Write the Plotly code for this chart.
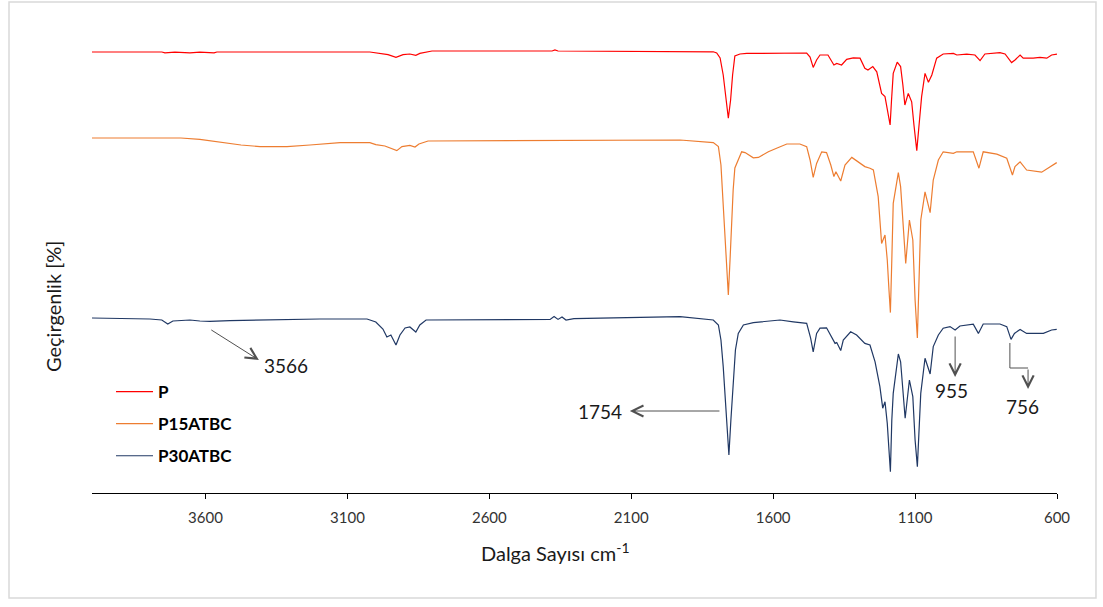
import plotly.graph_objects as go

# ---------------- data (wavenumber cm-1, transmittance a.u., stacked) ----------------
wn_P = [4000, 3859, 3845, 3824, 3754, 3743, 3708, 3655, 3620, 3570,
        3560, 3021, 2993, 2957, 2929, 2904, 2880, 2859, 2845, 2802,
        2379, 2369, 2358, 1928, 1811, 1799, 1787, 1776, 1766, 1758,
        1750, 1743, 1735, 1717, 1693, 1611, 1482, 1470, 1459, 1447,
        1435, 1407, 1396, 1386, 1376, 1359, 1341, 1318, 1294, 1277,
        1266, 1249, 1235, 1218, 1206, 1196, 1188, 1183, 1177, 1163,
        1151, 1143, 1136, 1124, 1112, 1104, 1094, 1086, 1077, 1065,
        1053, 1041, 1024, 1001, 965, 953, 918, 889, 871, 854,
        801, 783, 760, 748, 730, 719, 684, 660, 636, 619, 600]
T_P = [110.25, 110.25, 110.1, 110.25, 110.25, 110.05, 110.2, 110.05, 110.2, 110.05,
       110.25, 110.25, 109.9, 109.6, 108.9, 109.6, 109.75, 109.4, 109.9, 110.5,
       110.5, 110.75, 110.5, 110.3, 110.3, 110.0, 108.75, 104.5, 98.25, 93.7,
       98.25, 104.5, 109.25, 109.75, 109.9, 109.9, 110.0, 109.0, 106.4, 108.25,
       109.5, 109.5, 108.25, 107.0, 107.4, 107.0, 108.4, 108.8, 108.7, 106.2,
       105.75, 106.6, 105.3, 99.9, 99.1, 95.25, 92.0, 98.25, 104.9, 107.7,
       106.6, 102.0, 97.0, 99.9, 97.8, 92.0, 85.6, 92.0, 99.1, 104.9,
       102.7, 104.5, 108.7, 109.75, 109.9, 109.5, 109.7, 109.5, 108.1, 109.75,
       110.1, 109.75, 107.6, 108.25, 109.5, 108.7, 108.7, 108.9, 108.7, 109.5, 109.7]

wn_P15 = [4000, 3687, 3620, 3549, 3475, 3408, 3313, 3232, 3126, 3021,
          3000, 2968, 2926, 2908, 2880, 2862, 2848, 2816, 1999, 1928,
          1811, 1793, 1784, 1776, 1766, 1758, 1752, 1746, 1741, 1735,
          1711, 1699, 1670, 1652, 1617, 1588, 1552, 1506, 1482, 1470,
          1459, 1447, 1429, 1412, 1397, 1386, 1379, 1362, 1347, 1323,
          1294, 1277, 1259, 1247, 1230, 1218, 1206, 1198, 1192, 1187,
          1182, 1177, 1159, 1151, 1133, 1120, 1108, 1100, 1092, 1085,
          1080, 1065, 1047, 1036, 1018, 1001, 965, 953, 895, 875,
          860, 812, 777, 757, 748, 730, 707, 654, 625, 601]
T_P15 = [88.75, 88.75, 88.4, 87.75, 87.0, 86.6, 86.6, 87.0, 87.6, 87.6,
         87.1, 86.75, 85.6, 86.6, 86.9, 86.5, 87.25, 88.0, 88.1, 88.25,
         87.6, 86.6, 82.0, 72.5, 59.5, 49.5, 58.25, 68.25, 75.75, 81.25,
         85.3, 85.1, 83.8, 83.9, 85.3, 86.2, 87.25, 87.25, 86.6, 83.25,
         78.9, 82.4, 85.3, 85.1, 82.0, 79.1, 80.3, 78.0, 82.0, 83.9,
         82.4, 81.6, 81.2, 80.75, 74.1, 62.4, 64.5, 58.25, 50.75, 45.1,
         58.25, 72.4, 80.1, 76.6, 57.4, 68.25, 63.25, 48.25, 38.75, 53.25,
         68.25, 75.3, 70.1, 78.25, 83.25, 85.3, 84.9, 85.3, 85.3, 81.2,
         85.3, 84.7, 83.7, 79.5, 81.6, 82.8, 80.75, 80.2, 81.6, 82.6]

wn_P30 = [4000, 3866, 3796, 3754, 3733, 3715, 3655, 3620, 3585, 3514,
          3408, 3197, 3031, 3000, 2975, 2961, 2947, 2929, 2915, 2897,
          2880, 2859, 2845, 2823, 2386, 2372, 2358, 2344, 2330, 2302,
          1928, 1811, 1793, 1784, 1776, 1766, 1756, 1749, 1741, 1733,
          1723, 1705, 1670, 1576, 1529, 1482, 1468, 1459, 1447, 1435,
          1412, 1394, 1382, 1376, 1362, 1353, 1327, 1306, 1277, 1259,
          1241, 1224, 1214, 1206, 1198, 1192, 1187, 1182, 1177, 1159,
          1151, 1135, 1120, 1108, 1100, 1092, 1085, 1080, 1065, 1047,
          1036, 1018, 1001, 977, 959, 942, 895, 877, 860, 801,
          777, 762, 750, 730, 707, 648, 619, 601]
T_P30 = [43.75, 43.6, 43.5, 43.25, 42.25, 43.0, 43.25, 43.0, 42.9, 43.1,
         43.25, 43.5, 43.5, 42.75, 41.0, 39.0, 39.5, 37.0, 39.5, 41.25,
         41.5, 40.25, 42.0, 43.25, 43.4, 44.1, 43.4, 44.0, 43.25, 43.6,
         44.1, 43.25, 42.0, 38.25, 31.6, 20.75, 9.5, 18.25, 27.4, 35.75,
         39.9, 42.0, 42.6, 43.25, 42.8, 42.4, 38.7, 35.3, 39.9, 41.2,
         41.3, 39.1, 37.4, 37.6, 35.6, 38.25, 40.3, 39.5, 37.4, 37.0,
         32.8, 26.6, 21.2, 22.8, 17.4, 10.75, 5.3, 18.25, 24.9, 34.75,
         32.8, 18.7, 28.25, 24.1, 13.25, 6.6, 18.25, 24.9, 33.7, 29.75,
         36.6, 39.5, 41.2, 41.6, 40.75, 41.75, 42.2, 39.9, 42.25, 42.25,
         41.6, 38.4, 39.9, 40.9, 39.9, 39.9, 40.75, 40.9]

series_names = ["P", "P15ATBC", "P30ATBC"]
series_colors = ["#FF0000", "#ED7D31", "#203864"]

x_ticks = [3600, 3100, 2600, 2100, 1600, 1100, 600]
x_range = [4000, 600]

# peak labels: (label, text x, text y)
peak_labels = [("3566", 3401, 32.0), ("1754", 2210, 20.5), ("955", 971, 25.75), ("756", 723, 21.75)]
# arrows: (head x, head y, tail x, tail y)
peak_arrows = [(3412, 33.25, 3585, 41.0), (2105, 20.5, 1784, 20.5),
               (959, 29.0, 959, 39.5), (702, 26.0, 702, 31.25)]
elbow_x = [766, 766, 702]
elbow_y = [37.5, 31.25, 31.25]

FONT = "Lato, 'Open Sans', sans-serif"
ARROW_COLOR = "#505050"

fig = go.Figure()
for name, color, xs, ys in zip(series_names, series_colors,
                               [wn_P, wn_P15, wn_P30], [T_P, T_P15, T_P30]):
    fig.add_trace(go.Scatter(x=xs, y=ys, mode="lines", name=name, legendgroup=name,
                             line=dict(color=color, width=1.2)))

fig.add_trace(go.Scatter(x=elbow_x, y=elbow_y, mode="lines", showlegend=False,
                         hoverinfo="skip", line=dict(color=ARROW_COLOR, width=1)))

annotations = []
for (hx, hy, tx, ty) in peak_arrows:
    annotations.append(dict(x=hx, y=hy, ax=tx, ay=ty, xref="x", yref="y", axref="x", ayref="y",
                            text="", showarrow=True, arrowhead=5, arrowsize=2.2, arrowwidth=1,
                            arrowcolor=ARROW_COLOR, standoff=0, startstandoff=0))
anchors = ["left", "center", "center", "center"]
for (lab, lx, ly), anc in zip(peak_labels, anchors):
    annotations.append(dict(x=lx, y=ly, xref="x", yref="y", text=lab, showarrow=False,
                            xanchor=anc, yanchor="middle",
                            font=dict(family=FONT, size=19, color="#1a1a1a")))

annotations.append(dict(x=0.4808, y=-0.1283, xref="paper", yref="paper",
                        text="Dalga Sayısı cm<sup>-1</sup>", showarrow=False,
                        xanchor="center", yanchor="middle",
                        font=dict(family=FONT, size=20, color="#1a1a1a")))
annotations.append(dict(x=-0.0404, y=0.4065, xref="paper", yref="paper",
                        text="Geçirgenlik [%]", showarrow=False, textangle=-90,
                        xanchor="center", yanchor="middle",
                        font=dict(family=FONT, size=20, color="#1a1a1a")))

fig.update_layout(
    width=1103, height=607,
    margin=dict(l=92, r=46, t=33, b=114),
    paper_bgcolor="white", plot_bgcolor="white",
    font=dict(family=FONT, color="#1a1a1a"),
    showlegend=True,
    legend=dict(x=0.0197, y=0.2587, xanchor="left", yanchor="top",
                bgcolor="rgba(0,0,0,0)", tracegroupgap=7, itemwidth=37,
                font=dict(family=FONT, size=17, color="#000000", weight="bold")),
    annotations=annotations,
    shapes=[dict(type="rect", xref="paper", yref="paper",
                 x0=-0.0860, x1=1.0404, y0=-0.2283, y1=1.0674,
                 line=dict(color="#D9D9D9", width=1.5), fillcolor="rgba(0,0,0,0)", layer="below")],
)
fig.update_xaxes(range=x_range, tickvals=x_ticks, ticktext=[str(t) for t in x_ticks],
                 showline=True, linecolor="#000000", linewidth=1,
                 ticks="outside", ticklen=5, tickcolor="#000000", tickwidth=1,
                 showgrid=False, zeroline=False, ticklabelstandoff=6,
                 tickfont=dict(family=FONT, size=15, color="#333333"))
fig.update_yaxes(range=[0, 115], visible=False, showgrid=False, zeroline=False)

fig.write_html("out.html")
